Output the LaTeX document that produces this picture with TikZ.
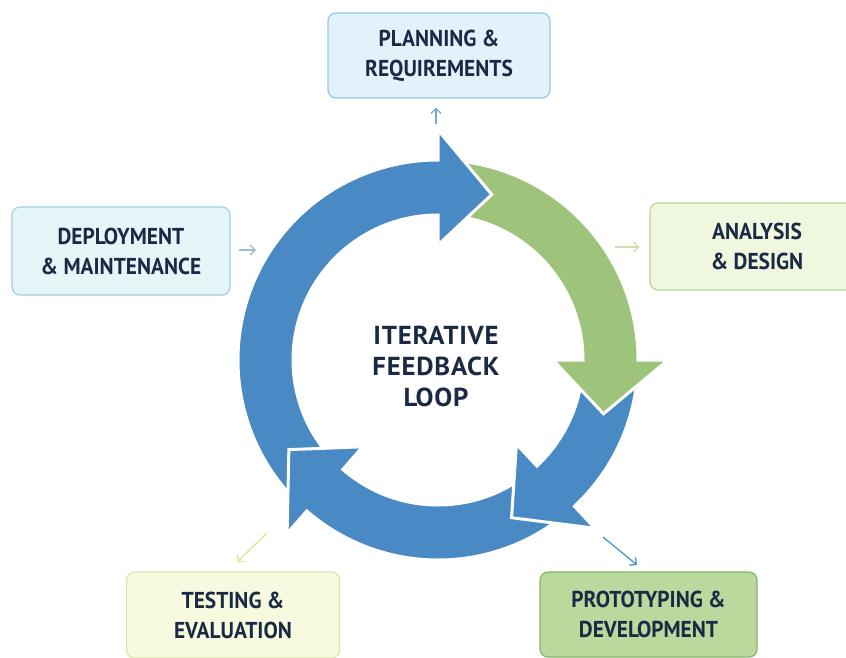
\documentclass[tikz,border=0pt]{standalone}
\usepackage{fontspec}
\setmainfont{PT Sans}[FakeStretch=0.93]
\newfontfamily\loopfont{PT Sans}[FakeStretch=1.03, LetterSpace=3]
\usepackage[x11names]{xcolor}
\usepackage{tikz}
\usetikzlibrary{arrows.meta}

\definecolor{loopblue}{HTML}{4A8AC4}
\definecolor{loopgreen}{HTML}{9DC47A}
\definecolor{inktext}{HTML}{1B2A44}
\definecolor{planfill}{HTML}{E2F2FB}
\definecolor{planedge}{HTML}{96C6E4}
\definecolor{deployfill}{HTML}{E5F6F8}
\definecolor{deployedge}{HTML}{A3D0D6}
\definecolor{designfill}{HTML}{EFF7DF}
\definecolor{designedge}{HTML}{B5D49A}
\definecolor{testfill}{HTML}{F8FADF}
\definecolor{testedge}{HTML}{DCE6A8}
\definecolor{protofill}{HTML}{B9D99D}
\definecolor{protoedge}{HTML}{87B46B}

% ring sizes (pt)
\newcommand\RingIn{145}
\newcommand\RingOut{200}
\newcommand\BarbIn{115}
\newcommand\BarbOut{230}
\newcommand\TipR{174}
\newcommand\HeadLen{18}

% #1 colour, #2 tail angle, #3 angle where the head starts
\newcommand\ringarrow[3]{%
  \path[fill=#1, draw=white, line width=3pt]
    (#2:\RingOut) arc[start angle=#2, end angle=#3, radius=\RingOut pt]
    -- (#3:\BarbOut) -- ({#3-\HeadLen}:\TipR) -- (#3:\BarbIn) -- (#3:\RingIn)
    arc[start angle=#3, end angle=#2, radius=\RingIn pt] -- cycle;}

\tikzset{
  stage/.style={rounded corners=8pt, line width=1.2pt, align=center,
    inner sep=0pt, text=inktext, font=\bfseries\fontsize{23}{30}\selectfont},
  link/.style={-{Straight Barb[length=5pt,width=10pt]}, line width=1.3pt},
}

\begin{document}
\begin{tikzpicture}[x=1pt, y=1pt]
\useasboundingbox (0,0) rectangle (846,-657);

% the loop
\begin{scope}[shift={(438,-360)}]
  \ringarrow{loopblue}{-52}{-131}
  \ringarrow{loopblue}{-5}{-47}
  \ringarrow{loopgreen}{85}{0}
  \ringarrow{loopblue}{224}{90}
  % bottom head once more, over the tail of the top arrow
  \begin{scope}
    \clip (0,0) -- (195:260) arc[start angle=195, end angle=227, radius=260pt] -- cycle;
    \ringarrow{loopblue}{-52}{-131}
  \end{scope}
\end{scope}

\node[text=inktext, align=center, font=\loopfont\bfseries\fontsize{26}{31}\selectfont]
  (loop) at (436,-366) {ITERATIVE\\FEEDBACK\\LOOP};

% stages
\node[stage, fill=planfill, draw=planedge, minimum width=222pt, minimum height=85pt]
  (plan) at (439,-55.5) {PLANNING \&\\REQUIREMENTS};
\node[stage, fill=deployfill, draw=deployedge, minimum width=218pt, minimum height=88pt]
  (deploy) at (121,-251) {DEPLOYMENT\\\& MAINTENANCE};
\node[stage, fill=designfill, draw=designedge, minimum width=214pt, minimum height=87pt]
  (design) at (757,-246.5) {ANALYSIS\\\& DESIGN};
\node[stage, fill=testfill, draw=testedge, minimum width=213pt, minimum height=86pt]
  (test) at (233,-615) {TESTING \&\\EVALUATION};
\node[stage, fill=protofill, draw=protoedge, minimum width=217pt, minimum height=85pt]
  (proto) at (648.5,-614.5) {PROTOTYPING \&\\DEVELOPMENT};

% small pointers
\coordinate (planfoot) at (436,-124);
\coordinate (deployhead) at (256,-250);
\coordinate (designfoot) at (615,-247);
\coordinate (testfoot) at (267,-533);
\coordinate (protofoot) at (603,-537);

\draw[link, SteelBlue3!80] (planfoot) -- ([yshift=-9pt]plan.south -| planfoot);
\draw[link, LightBlue3] (deploy.east |- deployhead) ++(8,0) -- (deployhead);
\draw[link, DarkOliveGreen2!70!gray!60] (designfoot) -- ([xshift=-10pt]design.west |- designfoot);
\draw[link, DarkOliveGreen1!40!Khaki3!70] (testfoot) -- (237,-562);
\draw[link, SteelBlue3] (protofoot) -- (637,-565);
\end{tikzpicture}
\end{document}
